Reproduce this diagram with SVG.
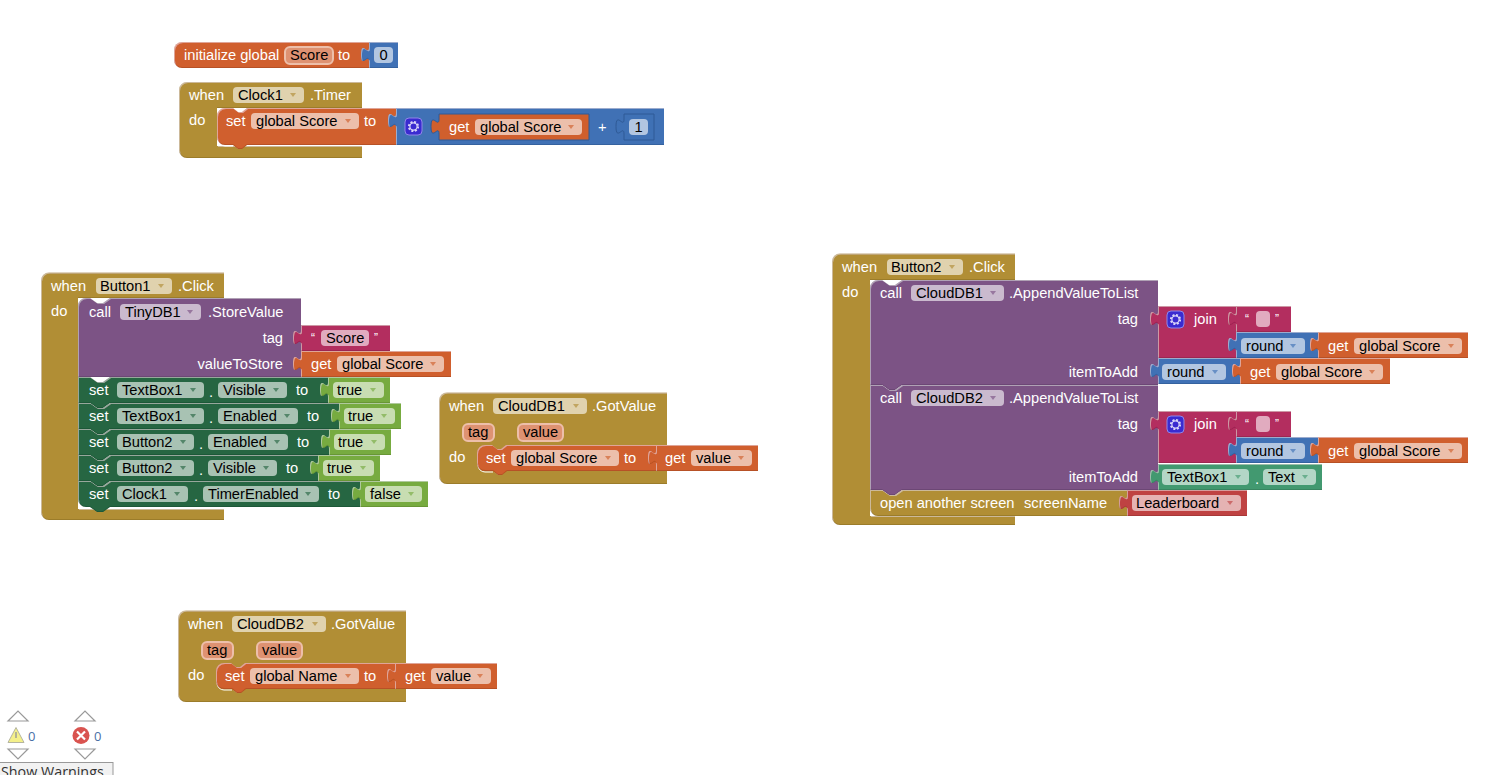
<svg xmlns="http://www.w3.org/2000/svg" width="1503" height="775" viewBox="0 0 1503 775">
<style>
text{font-family:"Liberation Sans",Arial,sans-serif;font-size:14.67px;fill:#fff}
.k{fill:#000}
.e{text-anchor:end}
.s{filter:url(#b)}
.f{fill:#fff;fill-opacity:.6}
.v{fill:#DE9272;stroke:#EDBFAA;stroke-width:2}
.or{fill:#D05F2D}.br{fill:#B18E35}.bl{fill:#3F71B5}.pu{fill:#7C5385}.ma{fill:#B32D5E}.dg{fill:#266643}.lg{fill:#77AB41}.te{fill:#439970}.re{fill:#BF4343}
.cr{fill:none;stroke:#fff;stroke-width:1}
.tri{fill:#fff;stroke:#999;stroke-width:1.2}
.ui{font-family:"Open Sans",sans-serif;font-size:13px;fill:#4a6fa5}
use.a{opacity:.65}
</style>
<defs>
<filter id="b" x="-3%" y="-8%" width="106%" height="116%">
<feOffset in="SourceAlpha" dx="1" dy="1" result="o1"/>
<feComposite in="SourceAlpha" in2="o1" operator="out" result="e1"/>
<feFlood flood-color="#fff" flood-opacity=".3"/>
<feComposite in2="e1" operator="in" result="hi"/>
<feOffset in="SourceAlpha" dx="0" dy="-1" result="o2"/>
<feComposite in="SourceAlpha" in2="o2" operator="out" result="e2"/>
<feFlood flood-color="#000" flood-opacity=".25"/>
<feComposite in2="e2" operator="in" result="lo"/>
<feMerge><feMergeNode in="SourceGraphic"/><feMergeNode in="hi"/><feMergeNode in="lo"/></feMerge>
</filter>
<path id="ar" d="M-3-2h6l-3 4z"/>
<g id="gear"><rect x="0" y="0" width="17" height="17" rx="4" fill="#3a2bd0" stroke="#8f86e8" stroke-width="1"/><circle cx="8.5" cy="8.5" r="3.600" fill="none" stroke="#d8d4f8" stroke-width="1.200"/><circle cx="8.5" cy="8.5" r="4.600" fill="none" stroke="#d8d4f8" stroke-width="2" stroke-dasharray="2 1.610"/></g>
</defs>

<g id="init-score">
<path class="or s" d="M182 42H369V68H182a8 8 0 0 1-8-8V50a8 8 0 0 1 8-8z"/>
<text x="184" y="60">initialize global</text>
<rect class="v" x="285" y="47" width="48" height="17" rx="5"/><text class="k" x="290" y="60">Score</text>
<text x="338" y="60">to</text>
<path class="bl s" d="M369 42v5c0,10,-8,-8,-8,7.5s8,-2.5,8,7.5V68H398V42z"/>
<rect class="f" x="374" y="47" width="19" height="16" rx="4"/><text class="k" x="379.500" y="60">0</text>
</g>

<g id="clock-timer">
<path class="br s" d="M187 82H362V108H217V146H362V158H187a8 8 0 0 1-8-8V90a8 8 0 0 1 8-8z"/>
<text x="189" y="100">when</text>
<rect class="f" x="233" y="87" width="71" height="16" rx="4"/><text class="k" x="238" y="100">Clock1</text><use href="#ar" x="293" y="95" class="br a"/>
<text x="310" y="100">.Timer</text>
<text x="189" y="125">do</text>
<path class="cr" d="M218 139a7 7 0 0 0 7 7h8"/>
<path class="or s" d="M225 108H233l5 4h4l5-4H396V145H247l-5 4h-4l-5-4H225a8 8 0 0 1-8-8V116a8 8 0 0 1 8-8z"/>
<text x="226" y="126">set</text>
<rect class="f" x="251" y="113" width="108" height="16" rx="4"/><text class="k" x="256" y="126">global Score</text><use href="#ar" x="348" y="121" class="or a"/>
<text x="364" y="126">to</text>
<path class="bl s" d="M396 108v5c0,10,-8,-8,-8,7.5s8,-2.5,8,7.5V145H664V108z"/>
<use href="#gear" x="405" y="118"/>
<path class="or" stroke="#2f5a96" stroke-width="1" d="M439 114v5c0,10,-8,-8,-8,7.5s8,-2.5,8,7.5V140H589V114z"/>
<text x="449" y="132">get</text>
<rect class="f" x="475" y="119" width="107" height="16" rx="4"/><text class="k" x="480" y="132">global Score</text><use href="#ar" x="571" y="127" class="or a"/>
<text x="598" y="132">+</text>
<path class="bl" stroke="#2f5a96" stroke-width="1" d="M624 114v5c0,10,-8,-8,-8,7.5s8,-2.5,8,7.5V140H654V114z"/>
<rect class="f" x="629" y="119" width="19" height="16" rx="4"/><text class="k" x="634.500" y="132">1</text>
</g>

<g id="button1-click">
<path class="br s" d="M49 272.500H224V298H78V509H224V520H49a8 8 0 0 1-8-8V280.500a8 8 0 0 1 8-8z"/>
<text x="51" y="291">when</text>
<rect class="f" x="96" y="278" width="76" height="16" rx="4"/><text class="k" x="100" y="291">Button1</text><use href="#ar" x="161" y="286" class="br a"/>
<text x="178" y="291">.Click</text>
<text x="51" y="316">do</text>
<path class="cr" d="M79 501a7 7 0 0 0 7 7h8"/>
<path class="pu s" d="M86 298H90l7 5h6l7-5H301V377H78V306a8 8 0 0 1 8-8z"/>
<text x="89" y="317">call</text>
<rect class="f" x="120" y="304" width="81" height="16" rx="4"/><text class="k" x="125" y="317">TinyDB1</text><use href="#ar" x="190" y="312" class="pu a"/>
<text x="208" y="317">.StoreValue</text>
<text class="e" x="283" y="343">tag</text>
<text class="e" x="283" y="369">valueToStore</text>
<path class="ma s" d="M301 325v5c0,10,-8,-8,-8,7.5s8,-2.500,8,7.5V351H390V325z"/>
<text x="311" y="342" style="font-size:12px">“</text>
<rect class="f" x="321" y="330" width="48" height="16" rx="4"/><text class="k" x="326" y="343">Score</text>
<text x="374" y="342" style="font-size:12px">”</text>
<path class="or s" d="M301 351v5c0,10,-8,-8,-8,7.5s8,-2.500,8,7.5V377H451V351z"/>
<text x="311" y="369">get</text>
<rect class="f" x="337" y="356" width="107" height="16" rx="4"/><text class="k" x="342" y="369">global Score</text><use href="#ar" x="433" y="364" class="or a"/>

<path class="dg s" d="M78 377H90l7 5h6l7-5H328V403H110l-7 5h-6l-7-5H78z"/>
<text x="89" y="395">set</text>
<rect class="f" x="117" y="382" width="87" height="16" rx="4"/><text class="k" x="122" y="395">TextBox1</text><use href="#ar" x="193" y="390" class="dg a"/>
<text x="209" y="397">.</text>
<rect class="f" x="218" y="382" width="69" height="16" rx="4"/><text class="k" x="223" y="395">Visible</text><use href="#ar" x="276" y="390" class="dg a"/>
<text x="296" y="395">to</text>
<path class="lg s" d="M328 377v5c0,10,-8,-8,-8,7.5s8,-2.500,8,7.5V403H390V377z"/>
<rect class="f" x="333" y="382" width="51" height="16" rx="4"/><text class="k" x="337" y="395">true</text><use href="#ar" x="373" y="390" class="lg a"/>

<path class="dg s" d="M78 403H90l7 5h6l7-5H339V429H110l-7 5h-6l-7-5H78z"/>
<text x="89" y="421">set</text>
<rect class="f" x="117" y="408" width="87" height="16" rx="4"/><text class="k" x="122" y="421">TextBox1</text><use href="#ar" x="193" y="416" class="dg a"/>
<text x="209" y="423">.</text>
<rect class="f" x="218" y="408" width="80" height="16" rx="4"/><text class="k" x="223" y="421">Enabled</text><use href="#ar" x="287" y="416" class="dg a"/>
<text x="307" y="421">to</text>
<path class="lg s" d="M339 403v5c0,10,-8,-8,-8,7.5s8,-2.500,8,7.5V429H401V403z"/>
<rect class="f" x="344" y="408" width="51" height="16" rx="4"/><text class="k" x="348" y="421">true</text><use href="#ar" x="384" y="416" class="lg a"/>

<path class="dg s" d="M78 429H90l7 5h6l7-5H329V455H110l-7 5h-6l-7-5H78z"/>
<text x="89" y="447">set</text>
<rect class="f" x="117" y="434" width="77" height="16" rx="4"/><text class="k" x="122" y="447">Button2</text><use href="#ar" x="183" y="442" class="dg a"/>
<text x="199" y="449">.</text>
<rect class="f" x="208" y="434" width="80" height="16" rx="4"/><text class="k" x="213" y="447">Enabled</text><use href="#ar" x="277" y="442" class="dg a"/>
<text x="297" y="447">to</text>
<path class="lg s" d="M329 429v5c0,10,-8,-8,-8,7.5s8,-2.500,8,7.5V455H391V429z"/>
<rect class="f" x="334" y="434" width="51" height="16" rx="4"/><text class="k" x="338" y="447">true</text><use href="#ar" x="374" y="442" class="lg a"/>

<path class="dg s" d="M78 455H90l7 5h6l7-5H318V481H110l-7 5h-6l-7-5H78z"/>
<text x="89" y="473">set</text>
<rect class="f" x="117" y="460" width="77" height="16" rx="4"/><text class="k" x="122" y="473">Button2</text><use href="#ar" x="183" y="468" class="dg a"/>
<text x="199" y="475">.</text>
<rect class="f" x="208" y="460" width="69" height="16" rx="4"/><text class="k" x="213" y="473">Visible</text><use href="#ar" x="266" y="468" class="dg a"/>
<text x="286" y="473">to</text>
<path class="lg s" d="M318 455v5c0,10,-8,-8,-8,7.5s8,-2.500,8,7.5V481H380V455z"/>
<rect class="f" x="323" y="460" width="51" height="16" rx="4"/><text class="k" x="327" y="473">true</text><use href="#ar" x="363" y="468" class="lg a"/>

<path class="dg s" d="M78 481H90l7 5h6l7-5H360V507H110l-7 5h-6l-7-5H86a8 8 0 0 1-8-8z"/>
<text x="89" y="499">set</text>
<rect class="f" x="117" y="486" width="71" height="16" rx="4"/><text class="k" x="122" y="499">Clock1</text><use href="#ar" x="177" y="494" class="dg a"/>
<text x="194" y="501">.</text>
<rect class="f" x="203" y="486" width="116" height="16" rx="4"/><text class="k" x="208" y="499">TimerEnabled</text><use href="#ar" x="308" y="494" class="dg a"/>
<text x="328" y="499">to</text>
<path class="lg s" d="M360 481v5c0,10,-8,-8,-8,7.5s8,-2.500,8,7.5V507H428V481z"/>
<rect class="f" x="365" y="486" width="57" height="16" rx="4"/><text class="k" x="370" y="499">false</text><use href="#ar" x="411" y="494" class="lg a"/>
</g>

<g id="clouddb1-gotvalue">
<path class="br s" d="M447 392.500H667V484H447a8 8 0 0 1-8-8V400.500a8 8 0 0 1 8-8z"/>
<text x="449" y="411">when</text>
<rect class="f" x="493" y="398" width="94" height="16" rx="4"/><text class="k" x="498" y="411">CloudDB1</text><use href="#ar" x="576" y="406" class="br a"/>
<text x="592" y="411">.GotValue</text>
<rect class="v" x="463" y="424" width="31" height="17" rx="5"/><text class="k" x="468" y="437">tag</text>
<rect class="v" x="518" y="424" width="45" height="17" rx="5"/><text class="k" x="523" y="437">value</text>
<text x="449" y="462">do</text>
<path class="cr" d="M478 465a7 7 0 0 0 7 7h8"/>
<path class="or s" d="M485 445H492l5 4h4l5-4H656V471H507l-5 4h-4l-5-4H485a8 8 0 0 1-8-8V453a8 8 0 0 1 8-8z"/>
<text x="486" y="463">set</text>
<rect class="f" x="511" y="450" width="108" height="16" rx="4"/><text class="k" x="516" y="463">global Score</text><use href="#ar" x="608" y="458" class="or a"/>
<text x="624" y="463">to</text>
<path class="or s" d="M656 445v5c0,10,-8,-8,-8,7.5s8,-2.500,8,7.5V471H758V445z"/>
<text x="665" y="463">get</text>
<rect class="f" x="691" y="450" width="61" height="16" rx="4"/><text class="k" x="696" y="463">value</text><use href="#ar" x="741" y="458" class="or a"/>
</g>

<g id="clouddb2-gotvalue">
<path class="br s" d="M186 610.500H406V702H186a8 8 0 0 1-8-8V618.500a8 8 0 0 1 8-8z"/>
<text x="188" y="629">when</text>
<rect class="f" x="232" y="616" width="94" height="16" rx="4"/><text class="k" x="237" y="629">CloudDB2</text><use href="#ar" x="315" y="624" class="br a"/>
<text x="331" y="629">.GotValue</text>
<rect class="v" x="202" y="642" width="31" height="17" rx="5"/><text class="k" x="207" y="655">tag</text>
<rect class="v" x="257" y="642" width="45" height="17" rx="5"/><text class="k" x="262" y="655">value</text>
<text x="188" y="680">do</text>
<path class="cr" d="M217 683a7 7 0 0 0 7 7h8"/>
<path class="or s" d="M224 663H231l5 4h4l5-4H395V689H246l-5 4h-4l-5-4H224a8 8 0 0 1-8-8V671a8 8 0 0 1 8-8z"/>
<text x="225" y="681">set</text>
<rect class="f" x="250" y="668" width="109" height="16" rx="4"/><text class="k" x="255" y="681">global Name</text><use href="#ar" x="348" y="676" class="or a"/>
<text x="364" y="681">to</text>
<path class="or s" d="M395 663v5c0,10,-8,-8,-8,7.5s8,-2.500,8,7.5V689H497V663z"/>
<text x="405" y="681">get</text>
<rect class="f" x="431" y="668" width="60" height="16" rx="4"/><text class="k" x="436" y="681">value</text><use href="#ar" x="480" y="676" class="or a"/>
</g>

<g id="button2-click">
<path class="br s" d="M840 253.500H1015V280H870V516H1015V525H840a8 8 0 0 1-8-8V261.500a8 8 0 0 1 8-8z"/>
<text x="842" y="272">when</text>
<rect class="f" x="887" y="259" width="76" height="16" rx="4"/><text class="k" x="891" y="272">Button2</text><use href="#ar" x="952" y="267" class="br a"/>
<text x="969" y="272">.Click</text>
<text x="842" y="297">do</text>

<path class="pu s" d="M878 280H882l7 5h6l7-5H1158V385H902l-7 5h-6l-7-5H870V288a8 8 0 0 1 8-8z"/>
<text x="880" y="298">call</text>
<rect class="f" x="911" y="285" width="93" height="16" rx="4"/><text class="k" x="916" y="298">CloudDB1</text><use href="#ar" x="993" y="293" class="pu a"/>
<text x="1009" y="298">.AppendValueToList</text>
<text class="e" x="1138" y="324">tag</text>
<text class="e" x="1138" y="377">itemToAdd</text>

<path class="ma s" d="M1158 306v5c0,10,-8,-8,-8,7.5s8,-2.500,8,7.5V358H1236V306z"/>
<use href="#gear" x="1167" y="311"/>
<text x="1194" y="324">join</text>
<path class="ma s" d="M1236 306v5c0,10,-8,-8,-8,7.5s8,-2.500,8,7.5V332H1291V306z"/>
<text x="1245" y="323" style="font-size:12px">“</text>
<rect class="f" x="1256" y="311" width="14" height="16" rx="4"/>
<text x="1275" y="323" style="font-size:12px">”</text>
<path class="bl s" d="M1236 332v5c0,10,-8,-8,-8,7.5s8,-2.500,8,7.5V358H1318V332z"/>
<rect class="f" x="1241" y="338" width="64" height="16" rx="4"/><text class="k" x="1246" y="351">round</text><use href="#ar" x="1293" y="346" class="bl a"/>
<path class="or s" d="M1318 332v5c0,10,-8,-8,-8,7.5s8,-2.500,8,7.5V358H1468V332z"/>
<text x="1328" y="351">get</text>
<rect class="f" x="1354" y="338" width="108" height="16" rx="4"/><text class="k" x="1359" y="351">global Score</text><use href="#ar" x="1451" y="346" class="or a"/>

<path class="bl s" d="M1158 358v5c0,10,-8,-8,-8,7.5s8,-2.500,8,7.5V384H1240V358z"/>
<rect class="f" x="1162" y="364" width="64" height="16" rx="4"/><text class="k" x="1167" y="377">round</text><use href="#ar" x="1215" y="372" class="bl a"/>
<path class="or s" d="M1240 358v5c0,10,-8,-8,-8,7.5s8,-2.500,8,7.5V384H1390V358z"/>
<text x="1250" y="377">get</text>
<rect class="f" x="1276" y="364" width="107" height="16" rx="4"/><text class="k" x="1281" y="377">global Score</text><use href="#ar" x="1372" y="372" class="or a"/>

<path class="pu s" d="M870 385H882l7 5h6l7-5H1158V490H902l-7 5h-6l-7-5H870z"/>
<text x="880" y="403">call</text>
<rect class="f" x="911" y="390" width="93" height="16" rx="4"/><text class="k" x="916" y="403">CloudDB2</text><use href="#ar" x="993" y="398" class="pu a"/>
<text x="1009" y="403">.AppendValueToList</text>
<text class="e" x="1138" y="429">tag</text>
<text class="e" x="1138" y="482">itemToAdd</text>

<path class="ma s" d="M1158 411v5c0,10,-8,-8,-8,7.5s8,-2.500,8,7.5V463H1236V411z"/>
<use href="#gear" x="1167" y="416"/>
<text x="1194" y="429">join</text>
<path class="ma s" d="M1236 411v5c0,10,-8,-8,-8,7.5s8,-2.500,8,7.5V437H1291V411z"/>
<text x="1245" y="428" style="font-size:12px">“</text>
<rect class="f" x="1256" y="416" width="14" height="16" rx="4"/>
<text x="1275" y="428" style="font-size:12px">”</text>
<path class="bl s" d="M1236 437v5c0,10,-8,-8,-8,7.5s8,-2.500,8,7.5V463H1318V437z"/>
<rect class="f" x="1241" y="443" width="64" height="16" rx="4"/><text class="k" x="1246" y="456">round</text><use href="#ar" x="1293" y="451" class="bl a"/>
<path class="or s" d="M1318 437v5c0,10,-8,-8,-8,7.5s8,-2.500,8,7.5V463H1468V437z"/>
<text x="1328" y="456">get</text>
<rect class="f" x="1354" y="443" width="108" height="16" rx="4"/><text class="k" x="1359" y="456">global Score</text><use href="#ar" x="1451" y="451" class="or a"/>

<path class="te s" d="M1158 464v5c0,10,-8,-8,-8,7.5s8,-2.500,8,7.5V490H1322V464z"/>
<rect class="f" x="1162" y="469" width="87" height="16" rx="4"/><text class="k" x="1167" y="482">TextBox1</text><use href="#ar" x="1238" y="477" class="te a"/>
<text x="1255" y="484">.</text>
<rect class="f" x="1263" y="469" width="53" height="16" rx="4"/><text class="k" x="1268" y="482">Text</text><use href="#ar" x="1305" y="477" class="te a"/>

<path class="br s" d="M870 490H882l7 5h6l7-5H1127V516H878a8 8 0 0 1-8-8z"/>
<text x="880" y="508">open another screen</text>
<text x="1024" y="508">screenName</text>
<path class="re s" d="M1127 490v5c0,10,-8,-8,-8,7.5s8,-2.500,8,7.5V516H1247V490z"/>
<rect class="f" x="1132" y="495" width="109" height="16" rx="4"/><text class="k" x="1136" y="508">Leaderboard</text><use href="#ar" x="1230" y="503" class="re a"/>
</g>

<g id="warning-counter">
<path class="tri" d="M8 721l10-10 10 10z"/>
<path d="M16 727.500l8 15H8z" fill="#f4f08a" stroke="#b5b5a0"/>
<rect x="15.300" y="732" width="1.400" height="6" fill="#999"/>
<text class="ui" x="28" y="741">0</text>
<path class="tri" d="M8 749l10 10 10-10z"/>
<path class="tri" d="M75 721l10-10 10 10z"/>
<circle cx="81" cy="735.500" r="8.500" fill="#d9534f"/>
<path d="M77 731.500l8 8m0-8l-8 8" stroke="#fff" stroke-width="2.200"/>
<text class="ui" x="94" y="741">0</text>
<path class="tri" d="M75 749l10 10 10-10z"/>
<rect x="-1" y="762.500" width="114" height="16" fill="#f2f2f2" stroke="#999"/>
<text x="1" y="777" style="font-family:'Open Sans',sans-serif;font-size:14.300px;fill:#333">Show Warnings</text>
</g>
</svg>
